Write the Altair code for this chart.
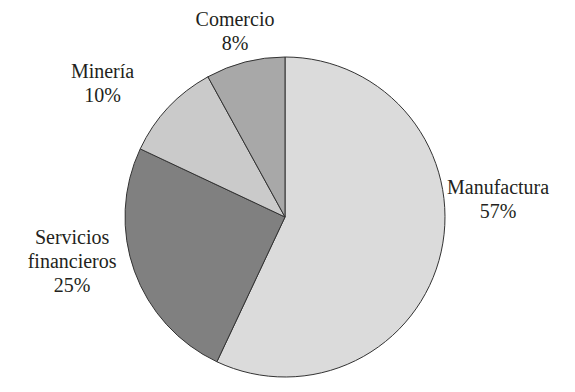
import altair as alt
import pandas as pd

categories = ["Manufactura", "Servicios financieros", "Minería", "Comercio"]
label_lines = [["Manufactura", "57%"], ["Servicios", "financieros", "25%"], ["Minería", "10%"], ["Comercio", "8%"]]
shares = [57, 25, 10, 8]
colors = ["#dbdbdb", "#808080", "#cacaca", "#a8a8a8"]

df = pd.DataFrame({
    "cat": categories,
    "value": shares,
    "order": list(range(len(categories))),
    "label": ["\n".join(l) for l in label_lines],
})

pie = alt.Chart(df).mark_arc(outerRadius=160, stroke="#333333", strokeWidth=1).encode(
    theta=alt.Theta("value:Q", stack=True),
    order=alt.Order("order:Q"),
    color=alt.Color("cat:N", scale=alt.Scale(domain=categories, range=colors), legend=None),
)

# label nudges (pixels) from the mid-angle anchor
nudges = {
    "Manufactura": (13, -74),
    "Servicios financieros": (-20, -48),
    "Minería": (-33, -5),
    "Comercio": (1, 2),
}

text_base = (
    alt.Chart(df)
    .transform_window(cum="sum(value)", sort=[alt.SortField("order")], frame=[None, 0])
    .transform_joinaggregate(total="sum(value)")
    .transform_calculate(mid="(datum.cum - datum.value / 2) / datum.total")
)

layers = [pie]
for c in categories:
    dx, dy = nudges[c]
    layers.append(
        text_base.transform_filter(alt.datum.cat == c).mark_text(
            radius=205, dx=dx, dy=dy, align="center", baseline="middle",
            lineBreak="\n", lineHeight=24, font="Liberation Serif", fontSize=20,
            color="#231f20",
        ).encode(
            theta=alt.Theta("mid:Q", scale=alt.Scale(domain=[0, 1], range=[0, 6.283185307179586])),
            text="label:N",
        )
    )

chart = alt.layer(*layers).resolve_scale(theta="independent").properties(
    width=554, height=334,
    autosize=alt.AutoSizeParams(type="none"),
    padding={"left": 0, "top": 42, "right": 5, "bottom": 0},
).configure_view(stroke=None)

chart.save("out.html", embed_options={"renderer": "svg", "actions": False})
